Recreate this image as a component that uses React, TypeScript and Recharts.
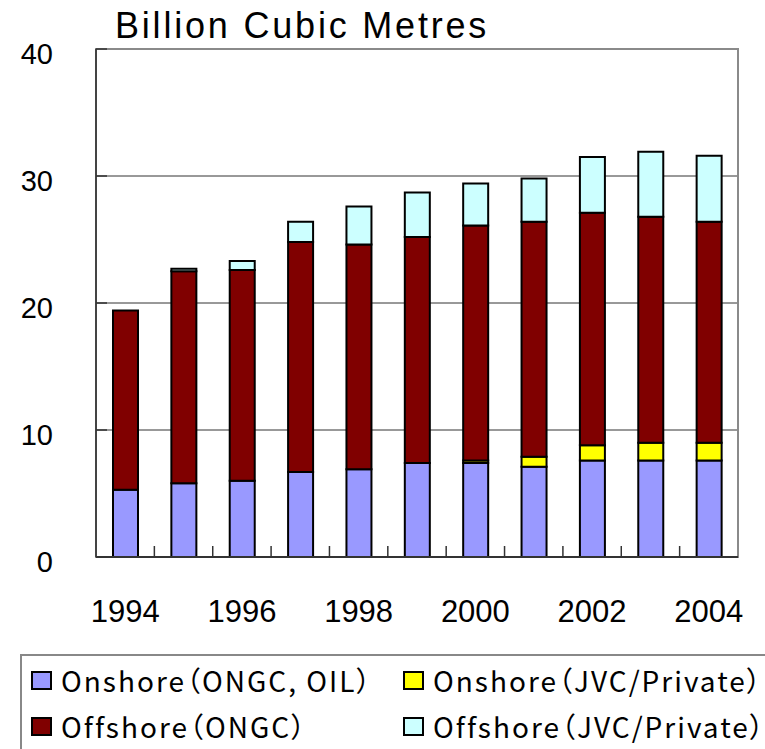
import React from 'react';
import { BarChart, Bar, XAxis, YAxis, CartesianGrid, ReferenceArea } from 'recharts';

// Natural gas production, billion cubic metres
const years = ['1994', '1995', '1996', '1997', '1998', '1999', '2000', '2001', '2002', '2003', '2004'];
const onshoreOngcOil = [5.3, 5.8, 6.0, 6.7, 6.9, 7.4, 7.4, 7.1, 7.6, 7.6, 7.6];
const onshoreJvc = [0, 0, 0, 0, 0, 0, 0.2, 0.8, 1.2, 1.4, 1.4];
const offshoreOngc = [14.1, 16.7, 16.6, 18.1, 17.7, 17.8, 18.5, 18.5, 18.3, 17.8, 17.4];
const offshoreJvc = [0, 0.2, 0.7, 1.6, 3.0, 3.5, 3.3, 3.4, 4.4, 5.1, 5.2];
const yTicks = [0, 10, 20, 30, 40];
const gridValues = [10, 20, 30];

const series = [
  { key: 'onshoreOngcOil', name: 'Onshore（ONGC, OIL）', color: '#9999ff' },
  { key: 'onshoreJvc', name: 'Onshore（JVC/Private）', color: '#ffff00' },
  { key: 'offshoreOngc', name: 'Offshore（ONGC）', color: '#800000' },
  { key: 'offshoreJvc', name: 'Offshore（JVC/Private）', color: '#ccffff' },
];

const data = years.map((year, i) => ({
  year,
  onshoreOngcOil: onshoreOngcOil[i],
  onshoreJvc: onshoreJvc[i],
  offshoreOngc: offshoreOngc[i],
  offshoreJvc: offshoreJvc[i],
}));

const W = 765;
const H = 749;
const PLOT_LEFT = 96;
const PLOT_RIGHT = 738;
const PLOT_TOP = 49;
const PLOT_BOTTOM = 557;
const BAND = (PLOT_RIGHT - PLOT_LEFT) / years.length;
const Y_LABEL_GAP = 43;
const TICK_LEN = 11;

const axisFont = '"Liberation Sans", Arial, sans-serif';
const legendFont = '"Noto Sans CJK JP", "Liberation Sans", sans-serif';

const YTick = (props: any) => {
  const { x, y, payload } = props;
  const axisX = x + Y_LABEL_GAP;
  return (
    <g>
      <line x1={axisX} x2={axisX + TICK_LEN} y1={y} y2={y} stroke="#333" strokeWidth={1.5} />
      <text x={x} y={y + 15} textAnchor="end" fontFamily={axisFont} fontSize={29} fill="#000">
        {payload.value}
      </text>
    </g>
  );
};

const XTick = (props: any) => {
  const { x, y, payload, index } = props;
  const showLabel = Number(payload.value) % 2 === 0;
  return (
    <g>
      {index < years.length - 1 && (
        <line x1={x + BAND / 2} x2={x + BAND / 2} y1={y} y2={y - TICK_LEN} stroke="#333" strokeWidth={1.5} />
      )}
      {showLabel && (
        <text x={x} y={y + 65} textAnchor="middle" fontFamily={axisFont} fontSize={31} fill="#000">
          {payload.value}
        </text>
      )}
    </g>
  );
};

const App: React.FC = () => {
  return (
    <div style={{ position: 'absolute', left: 0, top: 0, width: W, height: H, overflow: 'hidden', background: '#fff' }}>
      <div
        style={{
          position: 'absolute',
          left: 115,
          top: 8,
          fontFamily: axisFont,
          fontSize: 36,
          lineHeight: '36px',
          letterSpacing: 2.8,
          color: '#000',
          whiteSpace: 'nowrap',
        }}
      >
        Billion Cubic Metres
      </div>

      <BarChart
        width={W}
        height={H}
        data={data}
        margin={{ top: PLOT_TOP, right: W - PLOT_RIGHT, left: 0, bottom: 0 }}
      >
        <CartesianGrid vertical={false} horizontalValues={gridValues} stroke="#333" strokeWidth={1} />
        {/* plot frame: grey top and right edges */}
        <ReferenceArea y1={0} y2={40} fill="none" stroke="#8a8a8a" strokeWidth={2} ifOverflow="visible" />
        <XAxis
          dataKey="year"
          height={H - PLOT_BOTTOM}
          interval={0}
          tickSize={0}
          tickMargin={0}
          tickLine={false}
          axisLine={{ stroke: '#333', strokeWidth: 2 }}
          tick={<XTick />}
        />
        <YAxis
          domain={[0, 40]}
          ticks={yTicks}
          width={PLOT_LEFT}
          tickSize={0}
          tickMargin={Y_LABEL_GAP}
          tickLine={false}
          axisLine={{ stroke: '#444', strokeWidth: 2 }}
          tick={<YTick />}
        />
        {series.map((s) => (
          <Bar
            key={s.key}
            dataKey={s.key}
            name={s.name}
            stackId="gas"
            fill={s.color}
            stroke="#000"
            strokeWidth={2}
            barSize={25}
            isAnimationActive={false}
          />
        ))}
      </BarChart>

      <div
        style={{
          position: 'absolute',
          left: 20,
          top: 654,
          width: 800,
          height: 140,
          border: '2px solid #888',
          boxSizing: 'border-box',
        }}
      />
      {series.map((s, i) => {
        const col = i % 2;
        const row = Math.floor(i / 2);
        const left = col === 0 ? 31 : 403;
        const top = row === 0 ? 671 : 717;
        return (
          <div key={s.key} style={{ position: 'absolute', left, top, display: 'flex', alignItems: 'center', height: 19 }}>
            <span
              style={{
                width: 21,
                height: 19,
                boxSizing: 'border-box',
                border: '2px solid #000',
                background: s.color,
                display: 'inline-block',
              }}
            />
            <span
              style={{
                marginLeft: 9,
                fontFamily: legendFont,
                fontSize: 28,
                fontFeatureSettings: '"palt"',
                letterSpacing: 2,
                lineHeight: '19px',
                color: '#000',
                whiteSpace: 'nowrap',
              }}
            >
              {s.name}
            </span>
          </div>
        );
      })}
    </div>
  );
};

export default App;
